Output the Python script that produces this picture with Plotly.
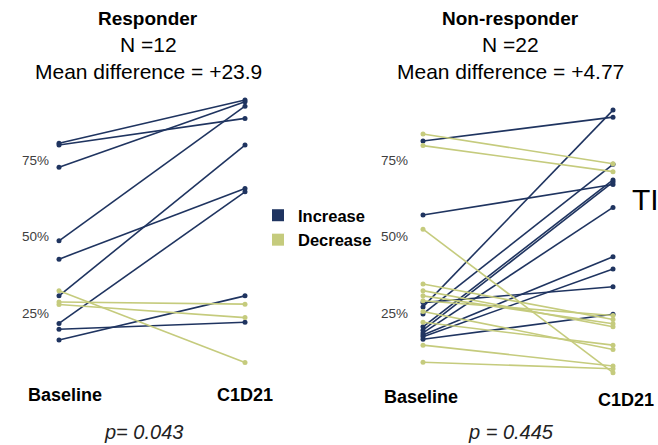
import plotly.graph_objects as go

W, H = 658, 445

# ---------------- data ----------------
timepoints = ["Baseline", "C1D21"]
tick_vals = [25, 50, 75]
tick_text = ["25%", "50%", "75%"]

resp_baseline = [80.5, 79.9, 72.6, 48.6, 42.6, 30.6, 21.6, 19.7, 16.2, 32.3, 28.6, 27.8]
resp_c1d21    = [94.6, 88.6, 94.0, 92.6, 65.7, 79.9, 64.6, 22.0, 30.6, 8.8, 27.9, 23.5]

nonresp_baseline = [81.2, 57.0, 27.0, 28.4, 24.7, 20.5, 19.4, 18.5, 17.8, 17.2, 16.4,
                    83.5, 79.7, 52.4, 34.5, 32.3, 30.6, 29.0, 25.5, 22.0, 14.5, 8.9]
nonresp_c1d21    = [89.0, 67.0, 91.3, 33.6, 73.6, 68.5, 67.8, 59.5, 43.4, 39.4, 24.6,
                    73.8, 71.2, 5.5, 22.9, 20.5, 21.5, 24.2, 13.1, 14.5, 7.7, 6.8]

groups = ["Responder", "Non-responder"]
group_n = [12, 22]
mean_diff = ["+23.9", "+4.77"]
p_values = ["p= 0.043", "p = 0.445"]
legend_names = ["Increase", "Decrease"]

# ---------------- style ----------------
BLUE = "#1F3460"
YELLOW = "#C5CB7D"
FONT = "Liberation Sans, Arial, sans-serif"

def fx(p):
    return p / W

def fy(p):
    return 1 - p / H

fig = go.Figure()

panels = [
    dict(xa="x", ya="y", base=resp_baseline, post=resp_c1d21),
    dict(xa="x2", ya="y2", base=nonresp_baseline, post=nonresp_c1d21),
]
for pn in panels:
    for b, a in zip(pn["base"], pn["post"]):
        col = BLUE if a >= b else YELLOW
        fig.add_trace(go.Scatter(
            x=[0, 1], y=[b, a], mode="lines+markers",
            line=dict(color=col, width=1.6),
            marker=dict(color=col, size=5),
            xaxis=pn["xa"], yaxis=pn["ya"], showlegend=False,
            cliponaxis=False, hoverinfo="skip"))

for name, col in zip(legend_names, [BLUE, YELLOW]):
    fig.add_trace(go.Scatter(
        x=[None], y=[None], mode="markers", name="<b>" + name + "</b>",
        marker=dict(color=col, size=15, symbol="square"),
        xaxis="x", yaxis="y", showlegend=True))

# axes geometry
L0, L1 = 59, 245   # pixel x of Baseline / C1D21 in left panel
R0, R1 = 423, 613
ytop, ybot = 83.5, 389.5

def xaxis_def(p0, p1, dl, dr):
    u = p1 - p0
    return dict(domain=[fx(dl), fx(dr)], range=[(dl - p0) / u, (dr - p0) / u],
                showgrid=False, zeroline=False, showline=False, showticklabels=False,
                ticks="", fixedrange=True)

def yaxis_def(anchor):
    return dict(domain=[fy(ybot), fy(ytop)], range=[0, 100], anchor=anchor,
                tickvals=tick_vals, ticktext=tick_text,
                tickfont=dict(family=FONT, size=13.5, color="#404040"),
                showgrid=False, zeroline=False, showline=False, ticks="",
                fixedrange=True)

layout = dict(
    width=W, height=H, margin=dict(l=0, r=0, t=0, b=0),
    paper_bgcolor="white", plot_bgcolor="white",
    xaxis=xaxis_def(L0, L1, 50, 290),
    xaxis2=xaxis_def(R0, R1, 409, 652),
    yaxis=yaxis_def("x"),
    yaxis2=yaxis_def("x2"),
    showlegend=True,
    legend=dict(x=fx(258), y=fy(198), xanchor="left", yanchor="top",
                bgcolor="rgba(0,0,0,0)", font=dict(family=FONT, size=16.5, color="black"),
                itemsizing="constant", tracegroupgap=0),
    font=dict(family=FONT),
)
fig.update_layout(**layout)
fig.update_layout(xaxis2=dict(anchor="y2"))

ann = []
title_cx = [148, 511]
for i, g in enumerate(groups):
    cx = title_cx[i]
    ann.append(dict(text="<b>" + g + "</b>", x=fx(cx), y=fy(18), size=19))
    ann.append(dict(text="N =" + str(group_n[i]), x=fx(cx), y=fy(44), size=21))
    ann.append(dict(text="Mean difference = " + mean_diff[i], x=fx(cx), y=fy(71), size=21))
for a in ann:
    s = a.pop("size")
    a.update(xref="paper", yref="paper", showarrow=False, xanchor="center", yanchor="middle",
             font=dict(family=FONT, size=s, color="black"))

xlabels = [("Baseline", 65, 395), ("C1D21", 245, 395), ("Baseline", 421, 397), ("C1D21", 626, 400)]
for t, px, py in xlabels:
    ann.append(dict(text="<b>" + t + "</b>", x=fx(px), y=fy(py), xref="paper", yref="paper",
                    showarrow=False, xanchor="center", yanchor="middle",
                    font=dict(family=FONT, size=18, color="black")))

for i, p in enumerate(p_values):
    ann.append(dict(text="<i>" + p + "</i>", x=fx([143, 511][i]), y=fy(432), xref="paper",
                    yref="paper", showarrow=False, xanchor="center", yanchor="middle",
                    font=dict(family=FONT, size=20, color="#222222")))

ann.append(dict(text="TI", x=fx(630), y=fy(199), xref="paper", yref="paper", showarrow=False,
                xanchor="left", yanchor="middle", font=dict(family=FONT, size=30, color="black")))

fig.update_layout(annotations=ann)
fig.write_html("out.html")
